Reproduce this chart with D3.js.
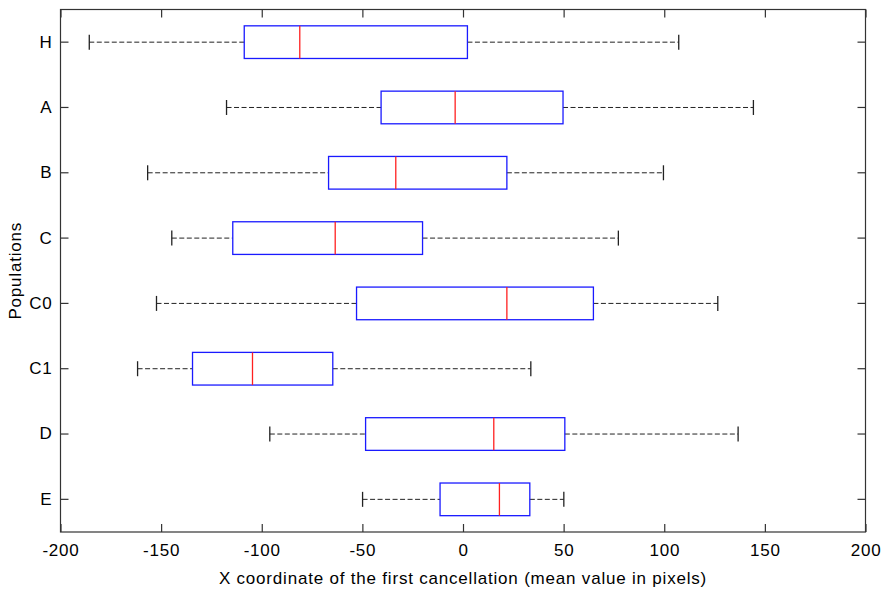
<html>
<head>
<meta charset="utf-8">
<script src="https://cdn.jsdelivr.net/npm/d3@7"></script>
<style>
    body { margin: 0; background: #fff; }
    text { font-family: "Liberation Sans", Arial, sans-serif; fill: #000; letter-spacing: 0.8px; }
    .whisker { stroke: #222; stroke-width: 1; stroke-dasharray: 5 2.5; fill: none; }
    .cap { stroke: #222; stroke-width: 1.3; }
    .box { fill: none; stroke: #1a1aff; stroke-width: 1.3; }
    .median { stroke: #ff2020; stroke-width: 1.3; }
    .frame { fill: none; stroke: #333; stroke-width: 1.2; }
    .tick line { stroke: #333; stroke-width: 1.2; }
</style>
</head>
<body>
<script>

    // populations, top to bottom
    var populations = ["H", "A", "B", "C", "C0", "C1", "D", "E"];
    var whiskerLow = [-185.7, -117.5, -156.7, -144.7, -152.3, -161.7, -96.0, -49.9];
    var q1 = [-108.7, -40.7, -66.8, -114.4, -52.9, -134.4, -48.4, -11.4];
    var medians = [-81.1, -3.9, -33.4, -63.5, 21.8, -104.6, 15.3, 18.1];
    var q3 = [2.2, 49.7, 21.8, -20.1, 64.8, -64.7, 50.6, 33.2];
    var whiskerHigh = [107.2, 144.3, 99.6, 77.2, 126.6, 33.7, 136.7, 50.1];
    var xTicks = [-200, -150, -100, -50, 0, 50, 100, 150, 200];

    var width = 883, height = 589;
    var margin = {left: 60.5, right: 17.5, top: 9.5, bottom: 57};
    var x0 = margin.left, x1 = width - margin.right;
    var y0 = margin.top, y1 = height - margin.bottom;

    var rows = populations.map(function (p, i) {
        return {name: p, lo: whiskerLow[i], q1: q1[i], med: medians[i], q3: q3[i], hi: whiskerHigh[i]};
    });

    var x = d3.scaleLinear().domain([-200, 200]).range([x0, x1]);
    var y = d3.scaleBand().domain(populations).range([y0, y1]).paddingInner(0).paddingOuter(0);
    var boxH = y.bandwidth() * 0.5;
    var capH = 15;

    var svg = d3.select("body").append("svg")
        .attr("width", width)
        .attr("height", height);

    // axes with inward ticks
    svg.append("g")
        .attr("transform", "translate(0," + y1 + ")")
        .call(d3.axisBottom(x).tickValues(xTicks).tickSize(-8).tickPadding(12).tickFormat(function (d) { return String(d); }))
        .call(function (g) {
            g.select(".domain").remove();
            g.selectAll("text").attr("font-size", 17).attr("dy", "0.71em");
        });
    svg.append("g")
        .attr("transform", "translate(0," + y0 + ")")
        .call(d3.axisTop(x).tickValues(xTicks).tickSize(-8).tickFormat(""))
        .call(function (g) { g.select(".domain").remove(); });
    svg.append("g")
        .attr("transform", "translate(" + x0 + ",0)")
        .call(d3.axisLeft(y).tickSize(-8).tickPadding(8))
        .call(function (g) {
            g.select(".domain").remove();
            g.selectAll("text").attr("font-size", 17);
        });
    svg.append("g")
        .attr("transform", "translate(" + x1 + ",0)")
        .call(d3.axisRight(y).tickSize(-8).tickFormat(""))
        .call(function (g) { g.select(".domain").remove(); });

    svg.append("rect")
        .attr("class", "frame")
        .attr("x", x0).attr("y", y0)
        .attr("width", x1 - x0).attr("height", y1 - y0);

    var box = svg.append("g").selectAll("g")
        .data(rows)
        .enter().append("g")
        .attr("transform", function (d) {
            return "translate(0," + (y(d.name) + y.bandwidth() / 2) + ")";
        });

    box.append("line").attr("class", "whisker")
        .attr("x1", function (d) { return x(d.lo); })
        .attr("x2", function (d) { return x(d.q1); });
    box.append("line").attr("class", "whisker")
        .attr("x1", function (d) { return x(d.q3); })
        .attr("x2", function (d) { return x(d.hi); });

    box.append("line").attr("class", "cap")
        .attr("x1", function (d) { return x(d.lo); })
        .attr("x2", function (d) { return x(d.lo); })
        .attr("y1", -capH / 2).attr("y2", capH / 2);
    box.append("line").attr("class", "cap")
        .attr("x1", function (d) { return x(d.hi); })
        .attr("x2", function (d) { return x(d.hi); })
        .attr("y1", -capH / 2).attr("y2", capH / 2);

    box.append("rect").attr("class", "box")
        .attr("x", function (d) { return x(d.q1); })
        .attr("width", function (d) { return x(d.q3) - x(d.q1); })
        .attr("y", -boxH / 2)
        .attr("height", boxH);

    box.append("line").attr("class", "median")
        .attr("x1", function (d) { return x(d.med); })
        .attr("x2", function (d) { return x(d.med); })
        .attr("y1", -boxH / 2).attr("y2", boxH / 2);

    // axis titles
    svg.append("text")
        .attr("x", (x0 + x1) / 2)
        .attr("y", 584)
        .attr("text-anchor", "middle")
        .attr("font-size", 17)
        .text("X coordinate of the first cancellation (mean value in pixels)");

    svg.append("text")
        .attr("transform", "translate(21," + ((y0 + y1) / 2) + ") rotate(-90)")
        .attr("text-anchor", "middle")
        .attr("font-size", 17)
        .text("Populations");

</script>
</body>
</html>
